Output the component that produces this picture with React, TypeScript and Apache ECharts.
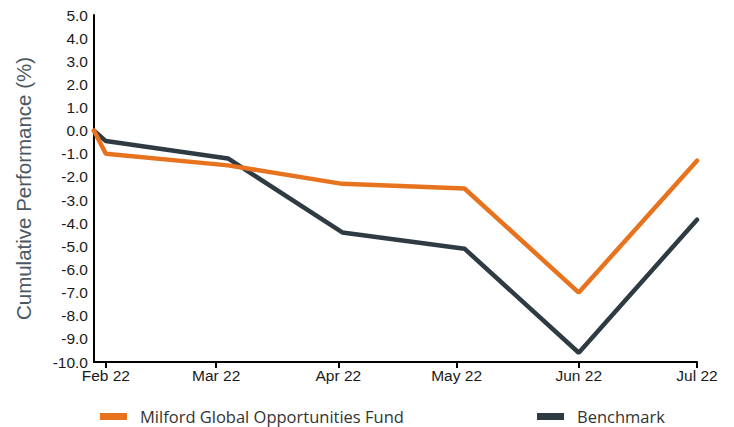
import React, { useEffect, useRef } from "react";
import * as echarts from "echarts";

const dates = ["2022-01-29", "2022-02-01", "2022-03-04", "2022-04-02", "2022-05-03", "2022-06-01", "2022-07-01"];
const fundValues = [0.0, -1.0, -1.5, -2.3, -2.5, -7.0, -1.3];
const benchmarkValues = [0.0, -0.45, -1.2, -4.4, -5.1, -9.6, -3.85];
const monthLabels = ["Jan", "Feb", "Mar", "Apr", "May", "Jun", "Jul", "Aug", "Sep", "Oct", "Nov", "Dec"];
const fundName = "Milford Global Opportunities Fund";
const benchName = "Benchmark";

export default function App() {
  const ref = useRef<HTMLDivElement>(null);
  useEffect(() => {
    if (!ref.current) return;
    const chart = echarts.init(ref.current, null, { renderer: "svg" });
    const toPairs = (vals: number[]) => dates.map((d, i) => [d, vals[i]]);
    const legendText = { fontFamily: "'Open Sans', Lato, sans-serif", fontSize: 16.5, color: "#333", padding: [0, 0, 0, 8] };
    chart.setOption({
      animation: false,
      backgroundColor: "#ffffff",
      grid: { left: 94, right: 37, top: 15, bottom: 65, containLabel: false },
      legend: [
        {
          data: [fundName],
          left: 100,
          top: 408,
          padding: 0,
          icon: "rect",
          itemWidth: 27,
          itemHeight: 7,
          textStyle: legendText,
        },
        {
          data: [benchName],
          left: 537,
          top: 408,
          padding: 0,
          icon: "rect",
          itemWidth: 27,
          itemHeight: 7,
          textStyle: legendText,
        },
      ],
      xAxis: {
        type: "time",
        min: "2022-01-29",
        max: "2022-07-01",
        splitNumber: 5,
        minInterval: 28 * 86400000,
        axisLine: { show: true, onZero: false, lineStyle: { color: "#000", width: 2 } },
        axisTick: { show: true, length: 6, lineStyle: { color: "#000", width: 2 } },
        splitLine: { show: false },
        axisLabel: {
          fontFamily: "'Liberation Sans', Arial, sans-serif",
          fontSize: 15.5,
          color: "#1a1a1a",
          margin: 5,
          showMinLabel: false,
          showMaxLabel: true,
          formatter: (v: number) => {
            const d = new Date(v);
            return monthLabels[d.getMonth()] + " " + String(d.getFullYear()).slice(2);
          },
        },
      },
      yAxis: {
        type: "value",
        min: -10,
        max: 5,
        interval: 1,
        name: "Cumulative Performance (%)",
        nameLocation: "middle",
        nameGap: 60,
        nameTextStyle: { fontFamily: "'Liberation Sans', Arial, sans-serif", fontSize: 20.5, color: "#4a5862" },
        axisLine: { show: true, onZero: false, lineStyle: { color: "#000", width: 2 } },
        axisTick: { show: false },
        splitLine: { show: false },
        axisLabel: {
          fontFamily: "'Liberation Sans', Arial, sans-serif",
          fontSize: 15.5,
          color: "#1a1a1a",
          margin: 6,
          formatter: (v: number) => v.toFixed(1),
        },
      },
      series: [
        {
          name: benchName,
          type: "line",
          data: toPairs(benchmarkValues),
          symbol: "none",
          itemStyle: { color: "#2f3b42" },
          lineStyle: { color: "#2f3b42", width: 4.5, cap: "round" },
        },
        {
          name: fundName,
          type: "line",
          data: toPairs(fundValues),
          symbol: "none",
          itemStyle: { color: "#e8731f" },
          lineStyle: { color: "#e8731f", width: 4.5, cap: "round" },
        },
      ],
    });
    return () => chart.dispose();
  }, []);
  return <div ref={ref} style={{ width: 734, height: 427, position: "absolute", left: 0, top: 0 }} />;
}
